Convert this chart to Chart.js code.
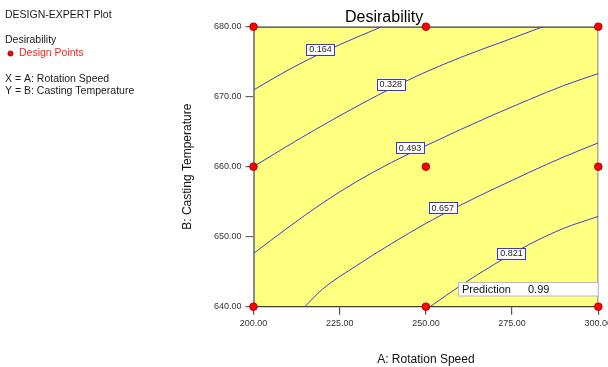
<!DOCTYPE html>
<html>
<head>
<meta charset="utf-8">
<script src="https://cdn.jsdelivr.net/npm/chart.js@4/dist/chart.umd.min.js"></script>
<style>
  html, body { margin: 0; padding: 0; background: #ffffff; }
  #wrap { position: relative; width: 608px; height: 367px; }
  canvas { display: block; }
</style>
</head>
<body>
<div id="wrap"><canvas id="c" width="608" height="367"></canvas></div>
<script>
// Factor ranges (A: Rotation Speed, B: Casting Temperature)
const xTicks = [200, 225, 250, 275, 300];
const yTicks = [640, 650, 660, 670, 680];

// Design points (3x3 factorial layout)
const designX = [200, 250, 300, 200, 250, 300, 200, 250, 300];
const designY = [680, 680, 680, 660, 660, 660, 640, 640, 640];

// Desirability contour levels and their paths [speed, temperature]
const levels = [0.164, 0.328, 0.493, 0.657, 0.821];
const contour164 = [[200, 670.95], [210, 673.8], [220, 676.3], [230, 678.5], [237.2, 680]];
const contour328 = [[200, 660.0], [212, 663.6], [224, 667.0], [236, 670.2], [248, 673.1], [260, 675.6], [272, 677.8], [284, 680]];
const contour493 = [[200, 647.6], [210, 651.3], [220, 654.8], [230, 657.9], [240, 660.6], [250, 663.0], [260, 665.3], [270, 667.5], [280, 669.6], [290, 671.6], [300, 673.3]];
const contour657 = [[214.9, 640], [220, 642.5], [230, 645.9], [240, 649.0], [250, 651.9], [260, 654.5], [270, 656.9], [280, 659.2], [290, 661.4], [300, 663.4]];
const contour821 = [[251.2, 640], [260, 643.0], [270, 646.1], [280, 648.9], [290, 651.2], [300, 652.9]];
const contourPaths = [contour164, contour328, contour493, contour657, contour821];

// Where each level's value tag sits [speed, temperature]
const labelX = [219.4, 239.8, 245.4, 254.9, 274.8];
const labelY = [676.8, 671.8, 662.7, 654.1, 647.6];

// Prediction flag
const predictionLabel = 'Prediction';
const predictionValue = 0.99;
const predictionAt = [259.4, 642.5];

const FONT = '"Liberation Sans", Arial, sans-serif';
const LINE_BLUE = '#3c3cd8';

const contourSets = contourPaths.map((path, i) => ({
  label: 'D = ' + levels[i],
  data: path.map(p => ({ x: p[0], y: p[1] })),
  showLine: true,
  borderColor: LINE_BLUE,
  borderWidth: 1,
  pointRadius: 0,
  pointHoverRadius: 0,
  cubicInterpolationMode: 'monotone',
  fill: false,
  order: 2
}));

const pointSet = {
  label: 'Design Points',
  data: designX.map((x, i) => ({ x: x, y: designY[i] })),
  showLine: false,
  pointRadius: 3.8,
  pointBackgroundColor: '#ff0000',
  pointBorderColor: '#b00000',
  pointBorderWidth: 1,
  clip: false,
  order: 0
};

// Yellow plot field and frame
const fieldPlugin = {
  id: 'field',
  beforeDraw(chart) {
    const { ctx, chartArea: a } = chart;
    ctx.save();
    ctx.fillStyle = '#ffff80';
    ctx.fillRect(a.left, a.top, a.right - a.left, a.bottom - a.top);
    ctx.restore();
  },
  beforeDatasetsDraw(chart) {
    const { ctx, chartArea: a } = chart;
    ctx.save();
    ctx.lineWidth = 1.2;
    ctx.strokeStyle = '#404040';
    ctx.beginPath();
    ctx.moveTo(a.left, a.top + 0.5);
    ctx.lineTo(a.right, a.top + 0.5);
    ctx.stroke();
    ctx.strokeStyle = '#9a9a9a';
    ctx.beginPath();
    ctx.moveTo(a.right - 0.5, a.top);
    ctx.lineTo(a.right - 0.5, a.bottom);
    ctx.stroke();
    ctx.restore();
  }
};

// Value tags on the contours and the prediction flag
const tagPlugin = {
  id: 'tags',
  afterDatasetsDraw(chart) {
    const { ctx, scales: { x, y }, chartArea: a } = chart;
    ctx.save();
    ctx.font = '9px ' + FONT;
    ctx.textBaseline = 'middle';
    ctx.textAlign = 'center';
    levels.forEach((lv, i) => {
      const cx = x.getPixelForValue(labelX[i]);
      const cy = y.getPixelForValue(labelY[i]);
      const txt = lv.toFixed(3);
      const w = Math.round(ctx.measureText(txt).width) + 5;
      const h = 11;
      const l = Math.round(cx - w / 2) + 0.5;
      const t = Math.round(cy - h / 2) + 0.5;
      ctx.fillStyle = '#ffffff';
      ctx.fillRect(l, t, w, h);
      ctx.strokeStyle = '#3030ff';
      ctx.lineWidth = 1;
      ctx.strokeRect(l, t, w, h);
      ctx.fillStyle = '#222222';
      ctx.fillText(txt, cx, cy + 0.5);
    });

    const pl = Math.round(x.getPixelForValue(predictionAt[0])) + 0.5;
    const pc = y.getPixelForValue(predictionAt[1]);
    const ph = 13.5;
    const pt = Math.round(pc - ph / 2) + 0.5;
    const pw = a.right - pl;
    ctx.fillStyle = '#ffffff';
    ctx.fillRect(pl, pt, pw, ph);
    ctx.strokeStyle = '#b4b4e6';
    ctx.strokeRect(pl, pt, pw, ph);
    ctx.font = '11px ' + FONT;
    ctx.textAlign = 'left';
    ctx.fillStyle = '#111111';
    ctx.fillText(predictionLabel, pl + 3.5, pc + 0.5);
    ctx.fillText(String(predictionValue), pl + 69.5, pc + 0.5);
    ctx.restore();
  }
};

// Plot caption block on the left
const captionPlugin = {
  id: 'caption',
  afterDraw(chart) {
    const { ctx } = chart;
    ctx.save();
    ctx.font = '10.5px ' + FONT;
    ctx.textBaseline = 'middle';
    ctx.textAlign = 'left';
    ctx.fillStyle = '#1a1a1a';
    ctx.fillText('DESIGN-EXPERT Plot', 5, 15);
    ctx.fillText('Desirability', 5, 40.5);
    ctx.fillStyle = '#ff2020';
    ctx.fillText('Design Points', 19, 53.5);
    ctx.beginPath();
    ctx.arc(10.5, 53.5, 2.6, 0, Math.PI * 2);
    ctx.fillStyle = '#ff0000';
    ctx.fill();
    ctx.strokeStyle = '#a00000';
    ctx.lineWidth = 0.8;
    ctx.stroke();
    ctx.fillStyle = '#1a1a1a';
    ctx.fillText('X = A: Rotation Speed', 5, 79);
    ctx.fillText('Y = B: Casting Temperature', 5, 91.5);
    ctx.restore();
  }
};

new Chart(document.getElementById('c'), {
  type: 'scatter',
  data: { datasets: [pointSet].concat(contourSets) },
  options: {
    responsive: false,
    animation: false,
    devicePixelRatio: 1,
    layout: { padding: { left: 170, right: 9.7, top: 0, bottom: 0 } },
    plugins: {
      legend: { display: false },
      tooltip: { enabled: false },
      title: {
        display: true,
        text: 'Desirability',
        color: '#000000',
        font: { family: FONT, size: 16, weight: 'normal', lineHeight: 1 },
        padding: { top: 9.6, bottom: 1.1 }
      }
    },
    scales: {
      x: {
        type: 'linear',
        min: xTicks[0],
        max: xTicks[xTicks.length - 1],
        afterBuildTicks(s) { s.ticks = xTicks.map(v => ({ value: v })); },
        afterFit(s) { s.height = 60.3; s.paddingLeft = 0; s.paddingRight = 0; },
        ticks: {
          color: '#333333',
          font: { family: FONT, size: 9 },
          padding: 3,
          maxRotation: 0,
          callback: v => Number(v).toFixed(2)
        },
        grid: { drawOnChartArea: false, drawTicks: true, tickLength: 8, color: '#555555', lineWidth: 1.2 },
        border: { display: true, color: '#404040', width: 1.2 },
        title: {
          display: true,
          text: 'A: Rotation Speed',
          color: '#111111',
          font: { family: FONT, size: 12 },
          padding: { top: 0, bottom: 0 }
        }
      },
      y: {
        type: 'linear',
        min: yTicks[0],
        max: yTicks[yTicks.length - 1],
        afterBuildTicks(s) { s.ticks = yTicks.map(v => ({ value: v })); },
        afterFit(s) { s.width = 83.5; s.paddingTop = 0; s.paddingBottom = 0; },
        ticks: {
          color: '#333333',
          font: { family: FONT, size: 9 },
          padding: 4,
          callback: v => Number(v).toFixed(2)
        },
        grid: { drawOnChartArea: false, drawTicks: true, tickLength: 8, color: '#666666', lineWidth: 1.2 },
        border: { display: true, color: '#8a8a8a', width: 2 },
        title: {
          display: true,
          text: 'B: Casting Temperature',
          color: '#111111',
          font: { family: FONT, size: 12 },
          padding: { top: 10.8, bottom: 0 }
        }
      }
    }
  },
  plugins: [fieldPlugin, tagPlugin, captionPlugin]
});
</script>
</body>
</html>
